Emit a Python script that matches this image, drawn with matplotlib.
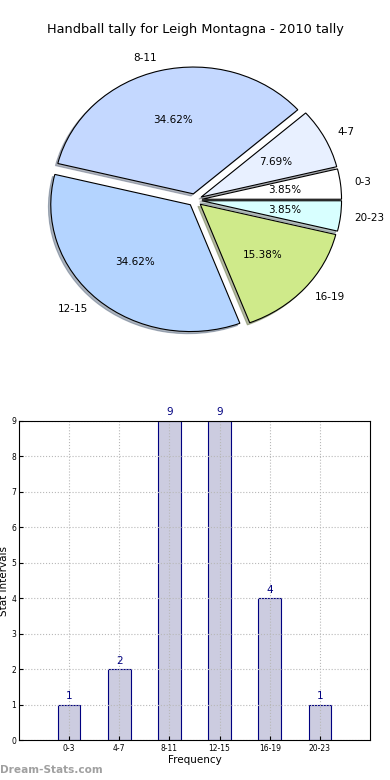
import matplotlib
matplotlib.use("Agg")
import matplotlib.pyplot as plt

# =============================================================================
#  Data
# =============================================================================

intervals = ["0-3", "4-7", "8-11", "12-15", "16-19", "20-23"]
counts = [1, 2, 9, 9, 4, 1]
pie_colors = ["#ffffff", "#e8f0ff", "#c4d8ff", "#b4d4ff", "#cfea8a", "#d8ffff"]

title = "Handball tally for Leigh Montagna - 2010 tally"

# =============================================================================
#  Figure
# =============================================================================

fig = plt.figure(figsize=(3.9, 7.8), dpi=100)

# Pie (not forced to equal aspect, so it comes out slightly oval)
ax_pie = fig.add_axes([20.5 / 390, 1 - 358.5 / 780, 349 / 390, 317 / 780])
ax_pie.pie(
    counts,
    labels=intervals,
    colors=pie_colors,
    explode=[0.05] * len(counts),
    autopct="%.2f%%",
    shadow=dict(ox=-0.012, oy=-0.012, shade=0.5),
    startangle=0,
    wedgeprops=dict(edgecolor="black", linewidth=0.8),
    textprops=dict(fontsize=7.5),
)
ax_pie.set_aspect("auto")
ax_pie.set_xlim(-1.25, 1.25)
ax_pie.set_ylim(-1.25, 1.25)
ax_pie.axis("off")
fig.text(0.5, 1 - 30 / 780, title, ha="center", va="center", fontsize=9.3)

# Bars
ax_bar = fig.add_axes([19 / 390, 1 - 740 / 780, 351 / 390, 319 / 780])
xs = list(range(len(intervals)))
ax_bar.bar(xs, counts, width=0.45, color="#cccce0", edgecolor="navy",
           linewidth=0.8, zorder=2)
for x, c in zip(xs, counts):
    ax_bar.text(x, c + 0.1, str(c), ha="center", va="bottom", color="navy",
                fontsize=7.5)
ax_bar.set_xlim(-1, 6)
ax_bar.set_ylim(0, 9)
ax_bar.set_xticks(xs)
ax_bar.set_xticklabels(intervals, fontsize=5.5)
ax_bar.set_yticks(range(10))
ax_bar.tick_params(axis="y", labelsize=5.5, direction="in", length=3, pad=2)
ax_bar.tick_params(axis="x", direction="in", length=3, pad=3)
ax_bar.grid(True, linestyle=":", color="#b8b8b8", linewidth=0.8, zorder=3)
ax_bar.set_axisbelow(False)
for spine in ax_bar.spines.values():
    spine.set_zorder(5)
ax_bar.set_xlabel("Frequency", fontsize=7.5, labelpad=1)
ax_bar.set_ylabel("Stat Intervals", fontsize=7.5, labelpad=2)

fig.text(0.0, 1 - 770 / 780, "Dream-Stats.com", color="#a0a0a0",
         fontsize=7.6, fontweight="bold", va="center", ha="left")

fig.savefig("out.png", dpi=100)
